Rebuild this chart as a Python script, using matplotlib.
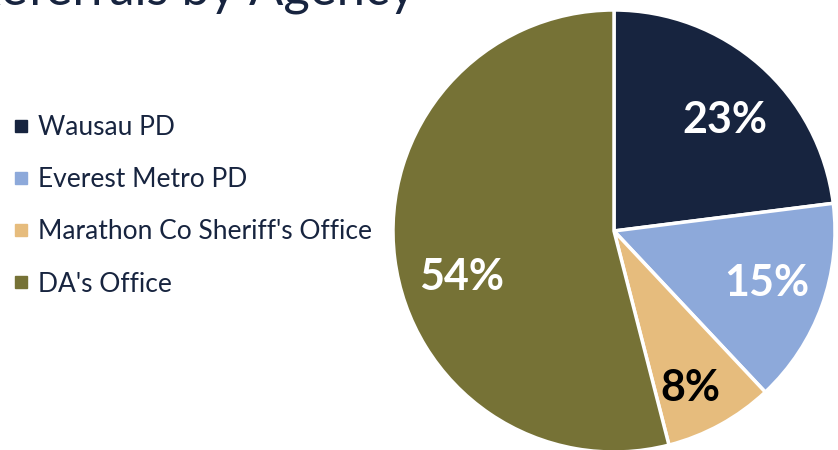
import numpy as np
import matplotlib
matplotlib.use("Agg")
import matplotlib.pyplot as plt
from matplotlib.lines import Line2D

# data
agencies = ["Wausau PD", "Everest Metro PD", "Marathon Co Sheriff's Office", "DA's Office"]
shares = [23, 15, 8, 54]
colors = ["#17243F", "#8DA9DA", "#E6BC7D", "#767236"]
label_colors = ["white", "white", "black", "white"]
# label placement tweaks (radius fraction, angle shift from wedge middle, deg)
label_r = [0.71, 0.73, 0.79, 0.72]
label_shift = [-3.5, 1.0, -3.0, 9.5]

W, H = 838, 450
fig = plt.figure(figsize=(W / 100, H / 100), dpi=100)
fig.patch.set_facecolor("white")

# pie axes: centre ~(614, 231) px, radius ~221 px
cx, cy, r = 614, 231, 221
ax = fig.add_axes([(cx - r) / W, (H - cy - r) / H, 2 * r / W, 2 * r / H])
wedges, texts, autotexts = ax.pie(
    shares, colors=colors, startangle=90, counterclock=False,
    autopct=lambda p: f"{p:.0f}%", pctdistance=0.74, radius=1,
    wedgeprops=dict(edgecolor="white", linewidth=2.5),
)
for w, t, c, lr, sh in zip(wedges, autotexts, label_colors, label_r, label_shift):
    mid = np.deg2rad((w.theta1 + w.theta2) / 2 + sh)
    t.set_position((lr * np.cos(mid), lr * np.sin(mid)))
    t.set_color(c)
    t.set_fontsize(31)
    t.set_fontweight("bold")
    t.set_fontfamily("Lato")
ax.set_xlim(-1, 1); ax.set_ylim(-1, 1)
ax.set_aspect("equal")
ax.axis("off")

# title (cut off at the top edge in the reference)
fig.text(-31 / W, 1 - 4 / H, "Referrals by Agency", fontsize=36.5, fontfamily="Lato",
         color="#17243F", ha="left", va="baseline")

# legend
handles = [Line2D([], [], marker="s", ls="", ms=8, color=c) for c in colors]
leg = fig.legend(handles, agencies, loc="upper left", bbox_to_anchor=(9 / W, 1 - 115 / H),
                 frameon=False, prop=dict(family="Lato", size=19), labelcolor="#17243F",
                 handletextpad=0.2, labelspacing=1.03, borderaxespad=0, borderpad=0,
                 handlelength=0.9)

fig.savefig("out.png", dpi=100)
